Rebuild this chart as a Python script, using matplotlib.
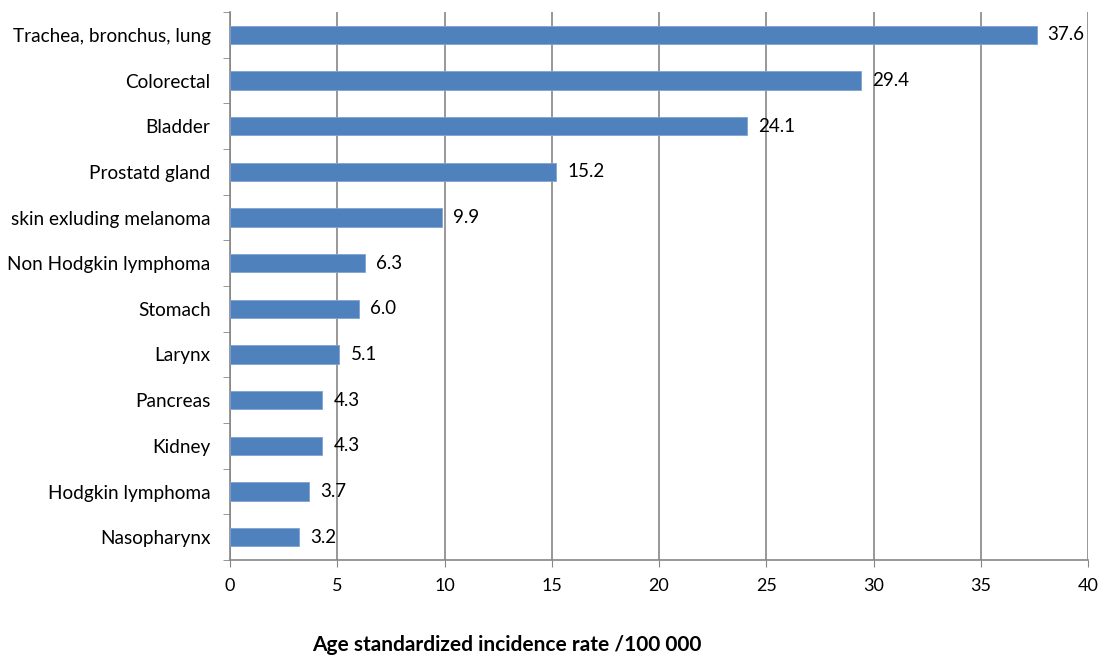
import matplotlib
matplotlib.use("Agg")
import matplotlib.pyplot as plt

categories = ["Trachea, bronchus, lung", "Colorectal", "Bladder", "Prostatd gland",
              "skin exluding melanoma", "Non Hodgkin lymphoma", "Stomach", "Larynx",
              "Pancreas", "Kidney", "Hodgkin lymphoma", "Nasopharynx"]
values = [37.6, 29.4, 24.1, 15.2, 9.9, 6.3, 6.0, 5.1, 4.3, 4.3, 3.7, 3.2]
xticks = [0, 5, 10, 15, 20, 25, 30, 35, 40]
xlabel = "Age standardized incidence rate /100 000"

plt.rcParams['font.family'] = ['Lato', 'DejaVu Sans']
fig = plt.figure(figsize=(11.02, 6.57), dpi=100)
ax = fig.add_axes([230/1102, 1-560/657, (1088-230)/1102, (560-12)/657])

n = len(categories)
ypos = list(range(n))
ax.barh(ypos, values, height=0.4, color="#4F81BD", edgecolor="#7FA3D3", linewidth=0.6, zorder=3)
ax.set_ylim(n - 0.5, -0.5)
ax.set_xlim(0, 40)
ax.set_xticks(xticks)
ax.set_xticklabels([str(t) for t in xticks], fontsize=13)
ax.set_yticks(ypos)
ax.set_yticklabels(categories, fontsize=13.7)
ax.set_yticks([i - 0.5 for i in range(n + 1)], minor=True)
ax.tick_params(axis='y', which='major', length=0, pad=14)
ax.tick_params(axis='y', which='minor', length=5, color="#868686", direction='out')
ax.tick_params(axis='x', length=5, color="#868686", direction='out', pad=8)
ax.grid(axis='x', color="#868686", linewidth=1.2, zorder=0)
ax.set_axisbelow(True)
for s in ['top', 'right']:
    ax.spines[s].set_visible(False)
for s in ['left', 'bottom']:
    ax.spines[s].set_color("#868686")
    ax.spines[s].set_linewidth(1.2)

for y, v in zip(ypos, values):
    ax.annotate(f"{v:.1f}", xy=(v, y), xytext=(8, 0), textcoords='offset points',
                va='center', ha='left', fontsize=13.5, zorder=4)

fig.text(507/1102, 1-645/657, xlabel, ha='center', va='center', fontsize=15, fontweight='bold')
fig.savefig("out.png", dpi=100)
